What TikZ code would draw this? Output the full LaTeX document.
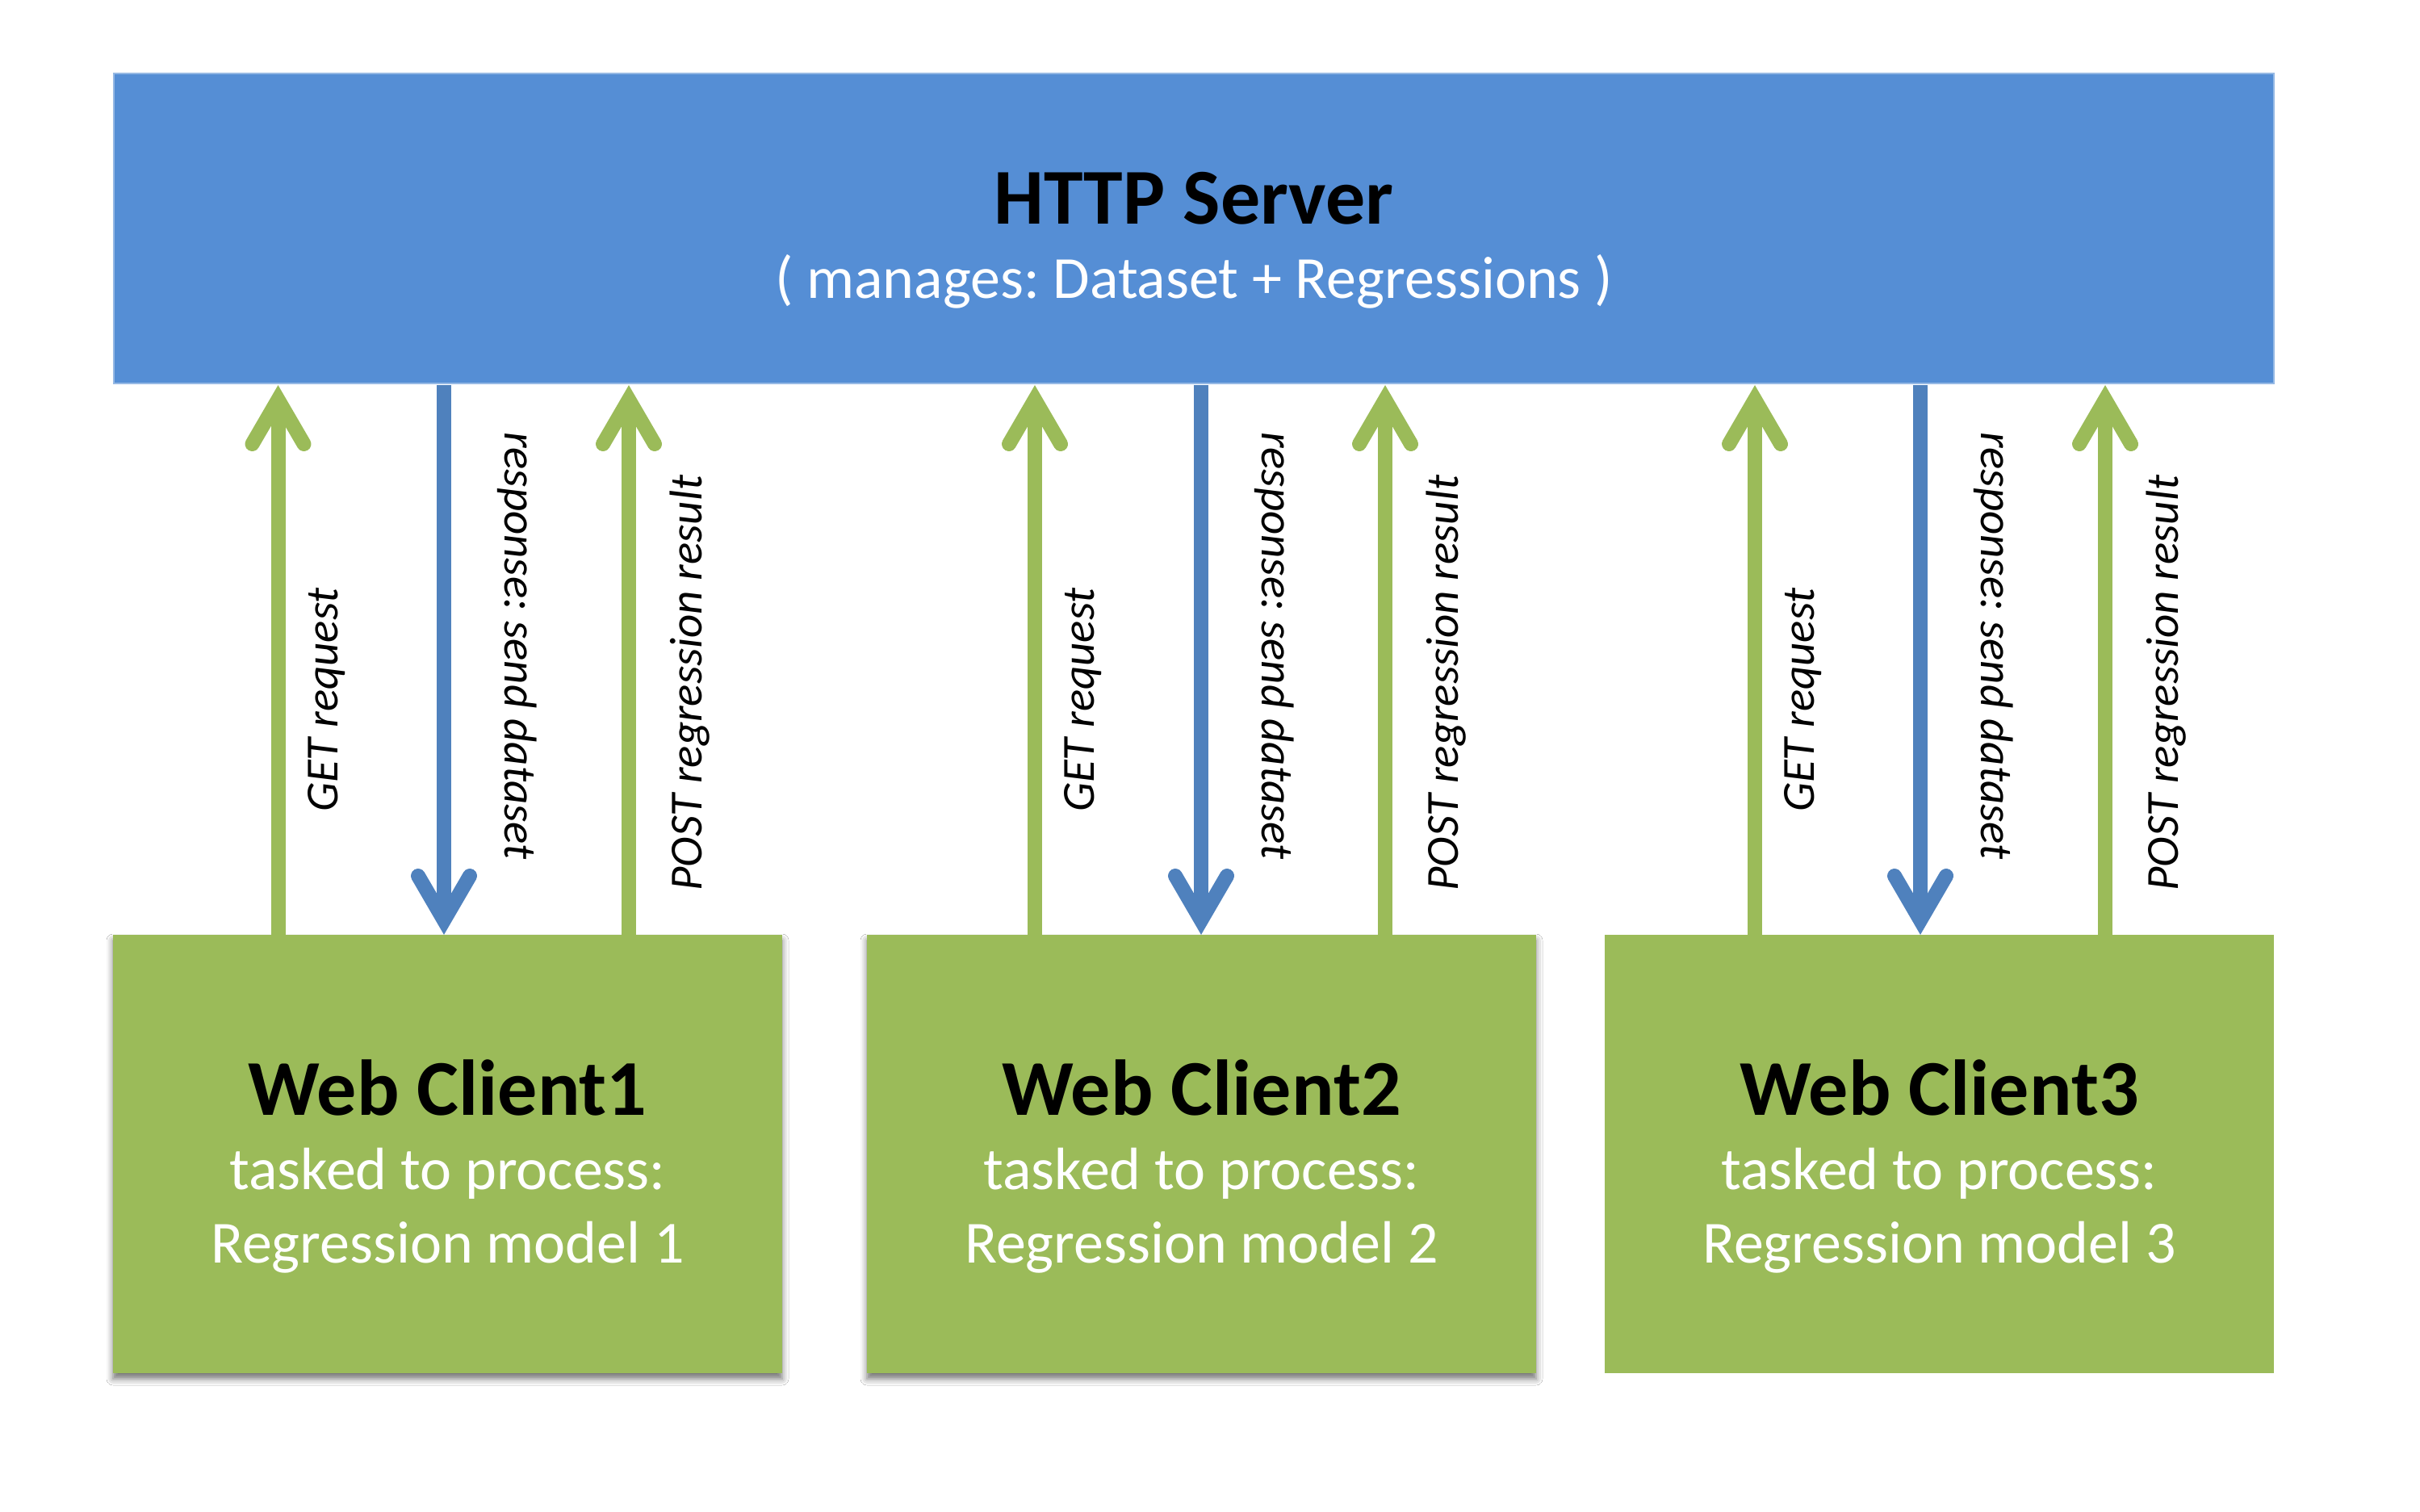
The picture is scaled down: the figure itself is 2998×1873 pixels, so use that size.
\documentclass[tikz,border=0pt]{standalone}
\usepackage{fontspec}
\setmainfont{Carlito}
\frenchspacing
\usetikzlibrary{calc,shadows.blur}
\definecolor{srvblue}{RGB}{85,142,213}
\definecolor{srvedge}{RGB}{150,185,228}
\definecolor{arrblue}{RGB}{79,129,189}
\definecolor{cgreen}{RGB}{155,187,89}
\begin{document}
\begin{tikzpicture}[x=1pt,y=-1pt,
  boxbase/.style={inner sep=0pt, outer sep=0pt, anchor=north west},
  srvbox/.style={boxbase, fill=srvblue, draw=srvedge, line width=2pt, minimum width=2676pt, minimum height=384pt},
  clibox/.style={boxbase, fill=cgreen, minimum width=829pt, minimum height=543pt},
  shade/.style={blur shadow={shadow xshift=0pt, shadow yshift=-7pt, shadow blur radius=8pt, shadow opacity=55}},
  bigtitle/.style={inner sep=0pt, anchor=base, font=\fontsize{98}{118}\selectfont\bfseries, text=black},
  subline/.style={inner sep=0pt, anchor=base, font=\fontsize{74}{90}\selectfont, text=white},
  lbl/.style={inner sep=0pt, anchor=base, font=\fontsize{57}{68}\selectfont\itshape, text=black},
  gline/.style={draw=cgreen, line width=18pt, line cap=butt},
  bline/.style={draw=arrblue, line width=18pt, line cap=butt},
  ghead/.style={draw=cgreen, line width=18pt, line cap=round, line join=miter},
  bhead/.style={draw=arrblue, line width=18pt, line cap=round, line join=miter}]

\fill[white] (0,0) rectangle (2998,1873);
\useasboundingbox (0,0) rectangle (2998,1873);

% server
\node[srvbox] (s) at (141,91) {};
\node[bigtitle] (stitle) at (1479,277) {HTTP Server};
\node[subline] (ssub) at (1479,369) {( manages: Dataset + Regressions )};

% clients
\node[clibox, shade] (c1) at (140,1158) {};
\node[clibox, shade] (c2) at (1074,1158) {};
\node[clibox] (c3) at (1988,1158) {};

\foreach \i/\cx in {1/554.5, 2/1488.5, 3/2402.5}{
  \node[bigtitle] (ct\i) at (\cx,1381) {Web Client\i};
  \node[subline] (ca\i) at (\cx,1473) {tasked to process:};
  \node[subline] (cb\i) at (\cx,1564) {Regression model \i};
}

% arrows
\foreach \i/\gx/\bx/\px in {1/344.5/550/779, 2/1282/1488/1716, 3/2174/2379/2608}{
  \coordinate (gx\i) at (\gx,0);
  \coordinate (bx\i) at (\bx,0);
  \coordinate (px\i) at (\px,0);
  % GET (up)
  \draw[gline] (c\i.north -| gx\i) -- ($(s.south -| gx\i)+(0,20)$);
  \draw[ghead] ($(s.south -| gx\i)+(-32,75)$) -- ($(s.south -| gx\i)+(0,20)$) -- ($(s.south -| gx\i)+(32,75)$);
  % response (down)
  \draw[bline] ($(s.south -| bx\i)+(0,2)$) -- ($(c\i.north -| bx\i)+(0,-18)$);
  \draw[bhead] ($(c\i.north -| bx\i)+(-32,-73)$) -- ($(c\i.north -| bx\i)+(0,-18)$) -- ($(c\i.north -| bx\i)+(32,-73)$);
  % POST (up)
  \draw[gline] (c\i.north -| px\i) -- ($(s.south -| px\i)+(0,20)$);
  \draw[ghead] ($(s.south -| px\i)+(-32,75)$) -- ($(s.south -| px\i)+(0,20)$) -- ($(s.south -| px\i)+(32,75)$);
  % labels
  \node[lbl, rotate=90] (lg\i) at ($(gx\i)+(73.5,867)$) {GET request};
  \node[lbl, rotate=-90] (lr\i) at ($(bx\i)+(75,800)$) {response: send dataset};
  \node[lbl, rotate=90] (lp\i) at ($(px\i)+(90,846)$) {POST regression result};
}
\end{tikzpicture}
\end{document}
